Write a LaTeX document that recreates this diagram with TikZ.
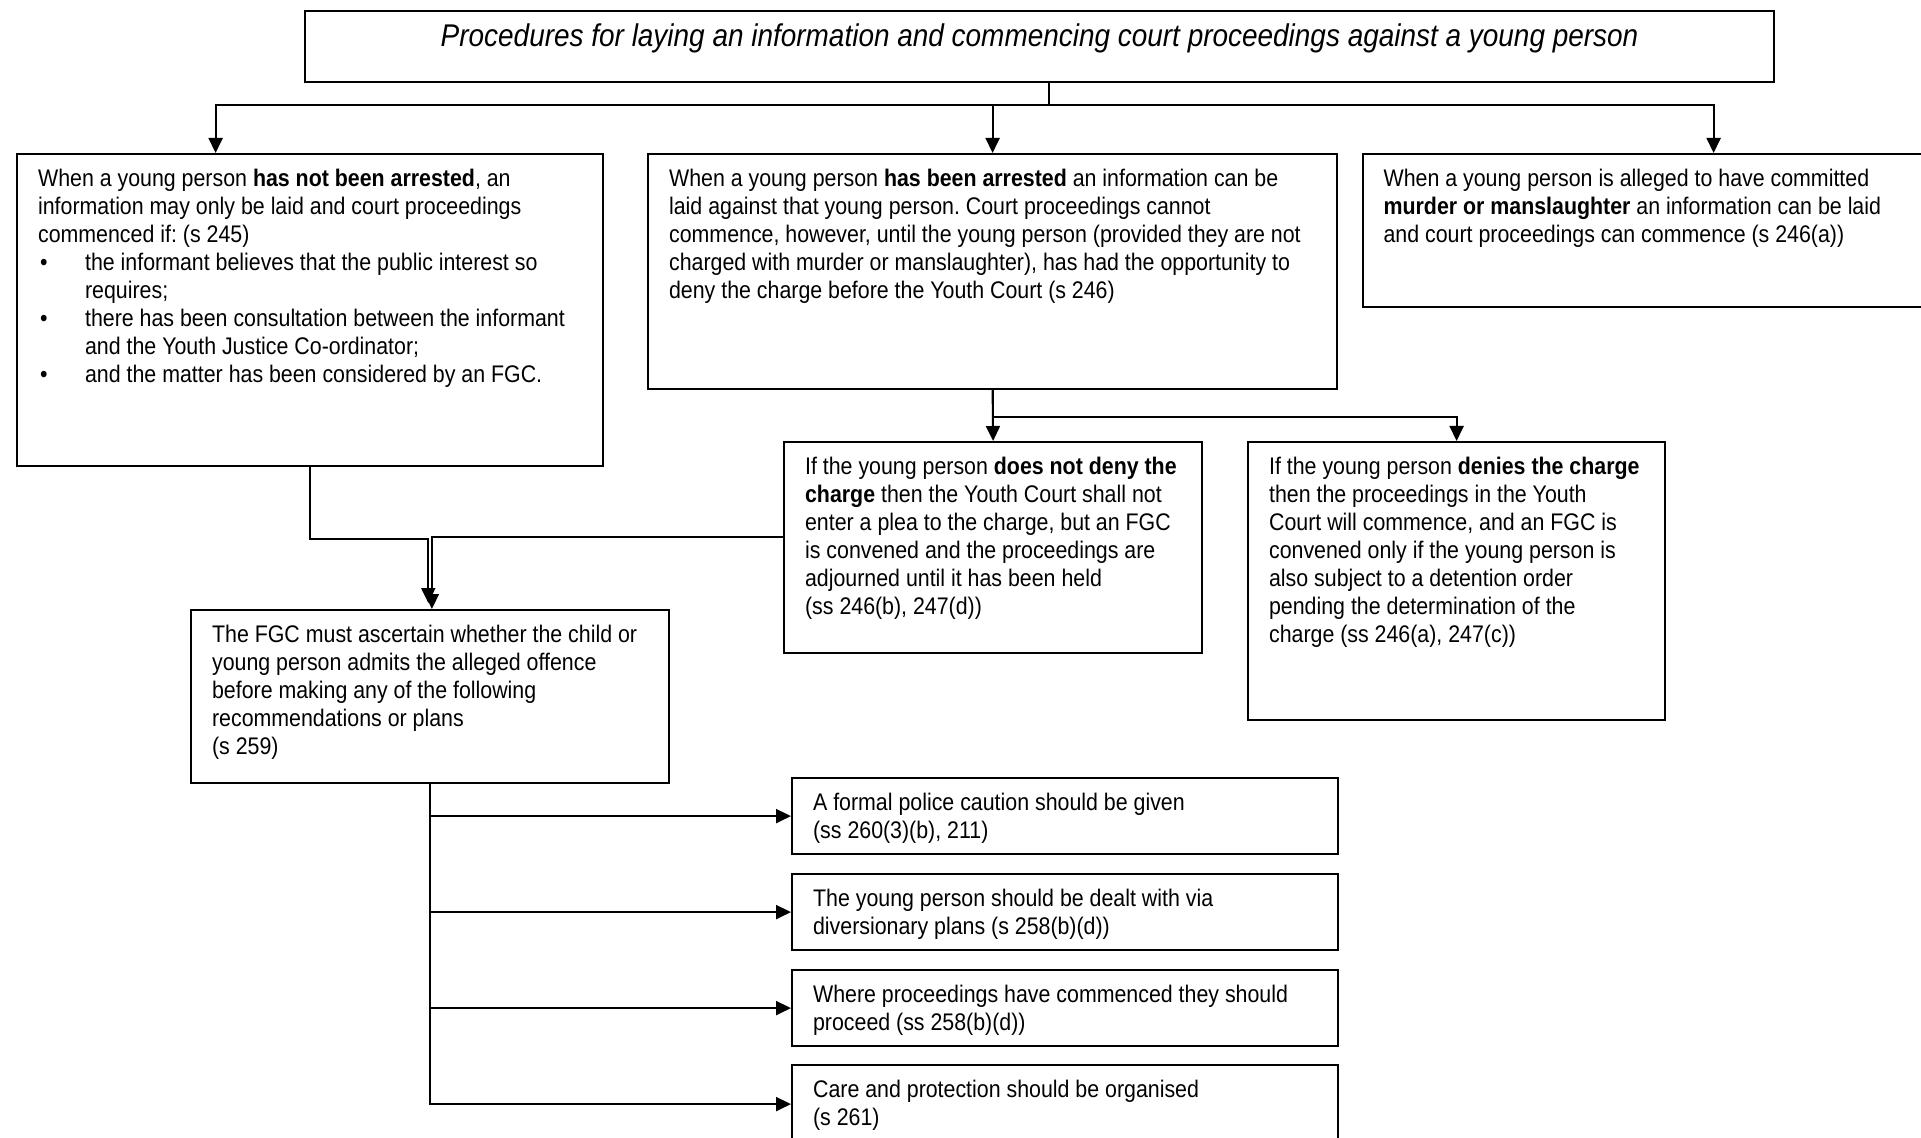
\documentclass[tikz,border=0pt]{standalone}
\usepackage{fontspec}
\setmainfont{Liberation Sans}[FakeStretch=0.89]
\usetikzlibrary{arrows.meta}
\frenchspacing
\newcommand{\bxtext}[3]{\parbox[t][#2][t]{#1}{\begin{tabular}[t]{@{}l@{}}#3\end{tabular}}}
\newcommand{\bul}{\makebox[23.5pt][l]{\hspace{1pt}\textbullet}}
\newcommand{\ind}{\hspace{23.5pt}}
\begin{document}
\begin{tikzpicture}[x=0.5pt,y=-0.5pt,
  bx/.style={draw=black, line width=1.1pt, anchor=north west, inner xsep=10.5pt, inner ysep=6.5pt,
    font=\fontsize{12}{14}\selectfont},
  ln/.style={draw=black, line width=1pt},
  arr/.style={ln, -{Triangle[length=7.5pt,width=7pt]}}]
\path[fill=white, use as bounding box] (0,0) rectangle (1921,1138);

\node[bx] (T) at (304,10) {\parbox[t][22.5pt][t]{713.5pt}{\centering\fontsize{15.7}{18}\selectfont\itshape Procedures for laying an information and commencing court proceedings against a young person}};

\node[bx] (A) at (16,153) {\bxtext{272pt}{143pt}{%
When a young person \textbf{has not been arrested}, an\\
information may only be laid and court proceedings\\
commenced if: (s 245)\\
\bul the informant believes that the public interest so\\
\ind requires;\\
\bul there has been consultation between the informant\\
\ind and the Youth Justice Co-ordinator;\\
\bul and the matter has been considered by an FGC.}};

\node[bx] (B) at (647,153) {\bxtext{323.5pt}{104.5pt}{%
When a young person \textbf{has been arrested} an information can be\\
laid against that young person. Court proceedings cannot\\
commence, however, until the young person (provided they are not\\
charged with murder or manslaughter), has had the opportunity to\\
deny the charge before the Youth Court (s 246)}};

\node[bx] (C) at (1361.5,153) {\bxtext{330pt}{63.5pt}{%
When a young person is alleged to have committed\\
\textbf{murder or manslaughter} an information can be laid\\
and court proceedings can commence (s 246(a))}};

\node[bx] (D) at (783,441) {\bxtext{188pt}{92.5pt}{%
If the young person \textbf{does not deny the}\\
\textbf{charge} then the Youth Court shall not\\
enter a plea to the charge, but an FGC\\
is convened and the proceedings are\\
adjourned until it has been held\\
(ss 246(b), 247(d))}};

\node[bx] (E) at (1247,441) {\bxtext{187.5pt}{126pt}{%
If the young person \textbf{denies the charge}\\
then the proceedings in the Youth\\
Court will commence, and an FGC is\\
convened only if the young person is\\
also subject to a detention order\\
pending the determination of the\\
charge (ss 246(a), 247(c))}};

\node[bx] (F) at (190,609) {\bxtext{218pt}{73.5pt}{%
The FGC must ascertain whether the child or\\
young person admits the alleged offence\\
before making any of the following\\
recommendations or plans\\
(s 259)}};

\node[bx] (G1) at (791,777) {\bxtext{252pt}{25pt}{%
A formal police caution should be given\\
(ss 260(3)(b), 211)}};
\node[bx] (G2) at (791,873) {\bxtext{252pt}{25pt}{%
The young person should be dealt with via\\
diversionary plans (s 258(b)(d))}};
\node[bx] (G3) at (791,969) {\bxtext{252pt}{25pt}{%
Where proceedings have commenced they should\\
proceed (ss 258(b)(d))}};
\node[bx] (G4) at (791,1064) {\bxtext{252pt}{26pt}{%
Care and protection should be organised\\
(s 261)}};

% connectors
\coordinate (bus) at (1049,105);
\draw[ln] (bus |- T.south) -- (bus);
\draw[arr] (bus) -| ([xshift=-47.25pt]A.north);
\draw[arr] (bus) -| (B.north);
\draw[arr] (bus) -| (C.north);

\draw[arr] (B.south) -- (D.north);
\draw[arr] (B.south) -- ++(0,27) -| (E.north);

\draw[arr] (A.south) -- ++(0,72) -| ([xshift=-0.9pt,yshift=3pt]F.north);
\draw[arr] ([yshift=5.25pt]D.west) -| ([xshift=0.9pt]F.north);

\draw[arr] (F.south) |- (G1.west);
\draw[arr] (F.south) |- (G2.west);
\draw[arr] (F.south) |- (G3.west);
\draw[arr] (F.south) |- (G4.west);
\end{tikzpicture}
\end{document}
